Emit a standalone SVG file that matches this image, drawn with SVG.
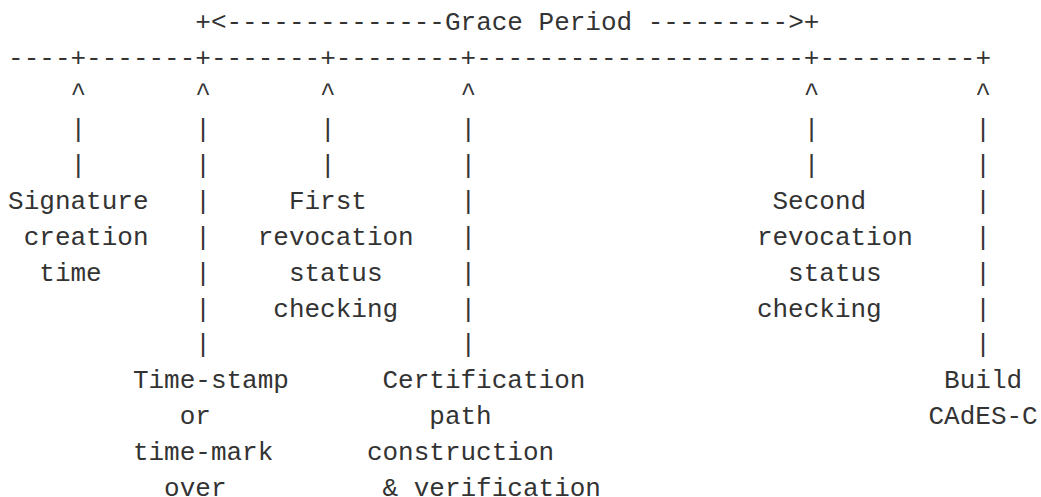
<svg xmlns="http://www.w3.org/2000/svg" width="1041" height="497" viewBox="0 0 1041 497">
  <style>
    text { font-family: "Liberation Mono", "DejaVu Sans Mono", monospace; font-size: 26px; fill: #333333; white-space: pre; }
  </style>
  <rect x="0" y="0" width="1041" height="497" fill="#ffffff"/>

  <!-- time axis with the grace period span -->
  <g id="timeline">
    <text x="195.3" y="29.6" xml:space="preserve">+&lt;--------------Grace Period ---------&gt;+</text>
    <text x="8.1" y="65.5" xml:space="preserve">----+-------+-------+--------+---------------------+----------+</text>
  </g>

  <!-- pointers from each event up to the axis -->
  <g id="connectors">
    <text x="70.5" y="101.4">^<tspan x="70.5" y="137.2">|</tspan><tspan x="70.5" y="173.1">|</tspan></text>
    <text x="195.3" y="101.4">^<tspan x="195.3" y="137.2">|</tspan><tspan x="195.3" y="173.1">|</tspan><tspan x="195.3" y="208.9">|</tspan><tspan x="195.3" y="244.8">|</tspan><tspan x="195.3" y="280.6">|</tspan><tspan x="195.3" y="316.5">|</tspan><tspan x="195.3" y="352.3">|</tspan></text>
    <text x="320.1" y="101.4">^<tspan x="320.1" y="137.2">|</tspan><tspan x="320.1" y="173.1">|</tspan></text>
    <text x="460.5" y="101.4">^<tspan x="460.5" y="137.2">|</tspan><tspan x="460.5" y="173.1">|</tspan><tspan x="460.5" y="208.9">|</tspan><tspan x="460.5" y="244.8">|</tspan><tspan x="460.5" y="280.6">|</tspan><tspan x="460.5" y="316.5">|</tspan><tspan x="460.5" y="352.3">|</tspan></text>
    <text x="803.7" y="101.4">^<tspan x="803.7" y="137.2">|</tspan><tspan x="803.7" y="173.1">|</tspan></text>
    <text x="975.3" y="101.4">^<tspan x="975.3" y="137.2">|</tspan><tspan x="975.3" y="173.1">|</tspan><tspan x="975.3" y="208.9">|</tspan><tspan x="975.3" y="244.8">|</tspan><tspan x="975.3" y="280.6">|</tspan><tspan x="975.3" y="316.5">|</tspan><tspan x="975.3" y="352.3">|</tspan></text>
  </g>

  <g id="signature-creation">
    <text x="8.1" y="208.9">Signature</text>
    <text x="23.7" y="244.8">creation</text>
    <text x="39.3" y="280.6">time</text>
  </g>

  <g id="time-stamp">
    <text x="132.9" y="388.2">Time-stamp</text>
    <text x="179.7" y="424.0">or</text>
    <text x="132.9" y="459.9">time-mark</text>
    <text x="164.1" y="495.7">over</text>
  </g>

  <g id="first-revocation-check">
    <text x="288.9" y="208.9">First</text>
    <text x="257.7" y="244.8">revocation</text>
    <text x="288.9" y="280.6">status</text>
    <text x="273.3" y="316.5">checking</text>
  </g>

  <g id="path-verification">
    <text x="382.5" y="388.2">Certification</text>
    <text x="429.3" y="424.0">path</text>
    <text x="366.9" y="459.9">construction</text>
    <text x="382.5" y="495.7">&amp; verification</text>
  </g>

  <g id="second-revocation-check">
    <text x="772.5" y="208.9">Second</text>
    <text x="756.9" y="244.8">revocation</text>
    <text x="788.1" y="280.6">status</text>
    <text x="756.9" y="316.5">checking</text>
  </g>

  <g id="build-cades-c">
    <text x="944.1" y="388.2">Build</text>
    <text x="928.5" y="424.0">CAdES-C</text>
  </g>
</svg>
